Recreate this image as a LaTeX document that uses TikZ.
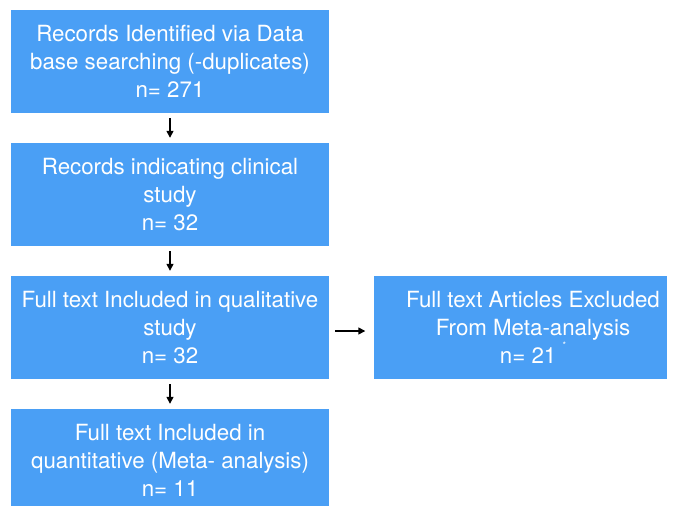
\documentclass[tikz,border=0pt]{standalone}
\usepackage{fontspec}
\setmainfont{TeX Gyre Heros}
\usetikzlibrary{arrows.meta}
\definecolor{boxblue}{RGB}{74,159,245}
\tikzset{
  flowbox/.style={fill=boxblue, draw=none, text=white, align=center,
    minimum width=318pt, minimum height=103pt, inner sep=0pt,
    font=\fontsize{22.3}{28}\selectfont},
  flowtext/.style={text=white, align=center, inner sep=0pt,
    font=\fontsize{22.3}{28}\selectfont},
  flowarrow/.style={-{Triangle[length=7pt,width=7pt]}, line width=1.4pt, black}
}
\begin{document}
\begin{tikzpicture}[x=1pt,y=-1pt]
  \useasboundingbox (0,0) rectangle (681,506);
  \node[flowbox] (b1) at (170,61.5) {Records Identified via Data\\base searching (-duplicates)\\n= 271};
  \node[flowbox] (b2) at (170,194.5) {Records indicating clinical\\study\\n= 32};
  \node[flowbox] (b3) at (170,327.5) {Full text Included in qualitative\\study\\n= 32};
  \node[flowbox] (b4) at (170,460.5) {Full text Included in\\quantitative (Meta- analysis)\\n= 11};
  % excluded box: its text sits a little right of the box centre
  \node[flowbox, minimum width=293pt] (b5) at (520,327.5) {};
  \node[flowtext] (b5text) at ([xshift=13pt]b5.center) {Full text Articles Excluded\\From Meta-analysis\\n= 21 \raisebox{1.3ex}{\fontsize{9}{9}\selectfont *}};
  \draw[flowarrow] ([yshift=-5pt]b1.south) -- ([yshift=5pt]b2.north);
  \draw[flowarrow] ([yshift=-5pt]b2.south) -- ([yshift=5pt]b3.north);
  \draw[flowarrow] ([yshift=-5pt]b3.south) -- ([yshift=5pt]b4.north);
  \draw[flowarrow] ([xshift=6pt,yshift=-3.5pt]b3.east) -- ([xshift=-8pt,yshift=-3.5pt]b5.west);
\end{tikzpicture}
\end{document}
